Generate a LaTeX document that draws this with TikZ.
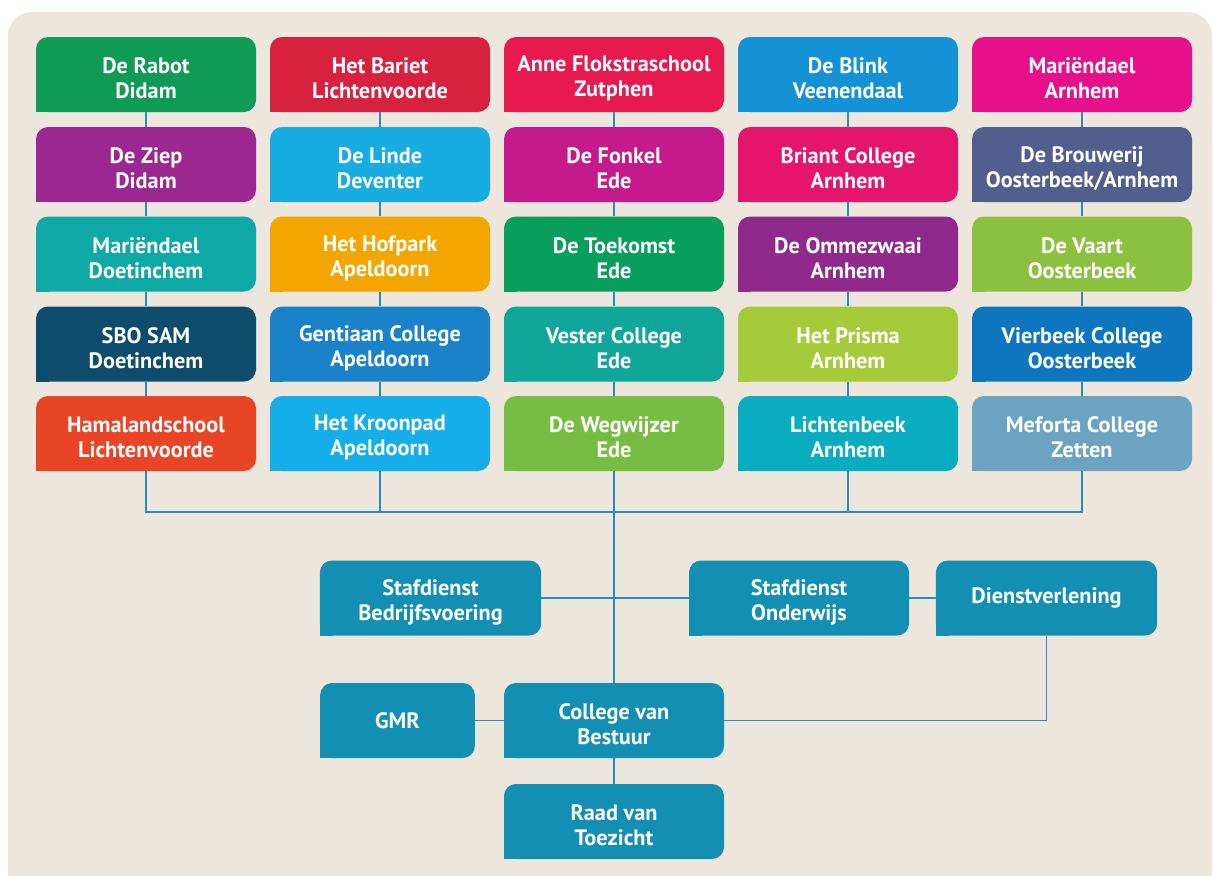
\documentclass[tikz,border=0pt]{standalone}
\usepackage{fontspec}
\setmainfont{PT Sans}
\definecolor{bg}{HTML}{ECE6DC}
\definecolor{ln}{HTML}{2B8DBA}
\definecolor{staf}{HTML}{138FB4}
\definecolor{cA}{HTML}{0F9A55}
\definecolor{cB}{HTML}{D7213F}
\definecolor{cC}{HTML}{E8194F}
\definecolor{cD}{HTML}{1591D5}
\definecolor{cE}{HTML}{E5108A}
\definecolor{cF}{HTML}{9B2791}
\definecolor{cG}{HTML}{17ADE0}
\definecolor{cH}{HTML}{C41A8C}
\definecolor{cI}{HTML}{E5146C}
\definecolor{cJ}{HTML}{525F8E}
\definecolor{cK}{HTML}{0EA8A7}
\definecolor{cL}{HTML}{F4A600}
\definecolor{cM}{HTML}{0A9E5C}
\definecolor{cN}{HTML}{8F2A8C}
\definecolor{cO}{HTML}{8CC040}
\definecolor{cP}{HTML}{0E4C6E}
\definecolor{cQ}{HTML}{1A82C9}
\definecolor{cR}{HTML}{10A69A}
\definecolor{cS}{HTML}{A5CB3A}
\definecolor{cT}{HTML}{0E76BF}
\definecolor{cU}{HTML}{EA4426}
\definecolor{cV}{HTML}{15AEEA}
\definecolor{cW}{HTML}{77BD44}
\definecolor{cX}{HTML}{0AACC0}
\definecolor{cY}{HTML}{6BA3C1}
\newcommand\TopGap{\rule{0pt}{18pt}}
\newcommand\SB[6][165pt]{%
  \node[sbox, minimum width=#1, fill=#5] (#2) at (#3,#4) {#6};
  \fill[#5] (#2.south west) rectangle ++(10pt,10pt);}
\tikzset{
  sbox/.style={minimum height=56.25pt, inner sep=0pt, rounded corners=9pt,
    text=white, align=center,
    font=\fontsize{16.7}{18.8}\selectfont\bfseries},
  conn/.style={draw=ln, line width=1.4pt}
}
\begin{document}
\begin{tikzpicture}[x=0.75pt,y=-0.75pt]
\useasboundingbox (0,0) rectangle (1214,875);
\fill[white] (0,0) rectangle (1214,875);
\begin{scope}
\clip (0,0) rectangle (1214,875);
\fill[bg, rounded corners=18pt] (8,12) rectangle (1212,920);
\end{scope}
% row 1
\SB{a1}{146}{74.5}{cA}{\TopGap De Rabot\\Didam}
\SB{b1}{380}{74.5}{cB}{\TopGap Het Bariet\\Lichtenvoorde}
\SB{c1}{614}{74.5}{cC}{\TopGap Anne Flokstraschool\\Zutphen}
\SB{d1}{848}{74.5}{cD}{\TopGap De Blink\\Veenendaal}
\SB{e1}{1082}{74.5}{cE}{\TopGap Mariëndael\\Arnhem}
% row 2
\SB{a2}{146}{164.5}{cF}{\TopGap De Ziep\\Didam}
\SB{b2}{380}{164.5}{cG}{\TopGap De Linde\\Deventer}
\SB{c2}{614}{164.5}{cH}{\TopGap De Fonkel\\Ede}
\SB{d2}{848}{164.5}{cI}{\TopGap Briant College\\Arnhem}
\SB{e2}{1082}{164.5}{cJ}{\TopGap De Brouwerij\\Oosterbeek/Arnhem}
% row 3
\SB{a3}{146}{254}{cK}{\TopGap Mariëndael\\Doetinchem}
\SB{b3}{380}{254}{cL}{\TopGap Het Hofpark\\Apeldoorn}
\SB{c3}{614}{254}{cM}{\TopGap De Toekomst\\Ede}
\SB{d3}{848}{254}{cN}{\TopGap De Ommezwaai\\Arnhem}
\SB{e3}{1082}{254}{cO}{\TopGap De Vaart\\Oosterbeek}
% row 4
\SB{a4}{146}{344}{cP}{\TopGap SBO SAM\\Doetinchem}
\SB{b4}{380}{344}{cQ}{\TopGap Gentiaan College\\Apeldoorn}
\SB{c4}{614}{344}{cR}{\TopGap Vester College\\Ede}
\SB{d4}{848}{344}{cS}{\TopGap Het Prisma\\Arnhem}
\SB{e4}{1082}{344}{cT}{\TopGap Vierbeek College\\Oosterbeek}
% row 5
\SB{a5}{146}{433.5}{cU}{\TopGap Hamalandschool\\Lichtenvoorde}
\SB{b5}{380}{433.5}{cV}{\TopGap Het Kroonpad\\Apeldoorn}
\SB{c5}{614}{433.5}{cW}{\TopGap De Wegwijzer\\Ede}
\SB{d5}{848}{433.5}{cX}{\TopGap Lichtenbeek\\Arnhem}
\SB{e5}{1082}{433.5}{cY}{\TopGap Meforta College\\Zetten}
% lower part
\SB[166pt]{bed}{430.5}{598}{staf}{\TopGap Stafdienst\\Bedrijfsvoering}
\SB{ond}{799}{598}{staf}{\TopGap Stafdienst\\Onderwijs}
\SB[166pt]{dien}{1046.5}{598}{staf}{Dienstverlening}
\SB[116pt]{gmr}{397.5}{720.5}{staf}{GMR}
\SB{cvb}{614}{720.5}{staf}{\TopGap College van\\Bestuur}
\SB{rvt}{614}{821.5}{staf}{\TopGap Raad van\\Toezicht}
% connectors
\foreach \c in {a,b,c,d,e}{
  \draw[conn] (\c1) -- (\c2);
  \draw[conn] (\c2) -- (\c3);
  \draw[conn] (\c3) -- (\c4);
  \draw[conn] (\c4) -- (\c5);
}
\coordinate (busL) at (146,512);
\coordinate (busR) at (1082,512);
\draw[conn] (a5.south) -- (busL) -- (busR) -- (e5.south);
\draw[conn] (b5.south) -- (b5.south |- busL);
\draw[conn] (d5.south) -- (d5.south |- busL);
\draw[conn] (c5.south) -- (cvb.north);
\draw[conn] (bed.east) -- (ond.west);
\draw[conn] (ond.east) -- (dien.west);
\draw[conn] (dien.south) -- (dien.south |- cvb.east) -- (cvb.east);
\draw[conn] (gmr.east) -- (cvb.west);
\draw[conn] (cvb.south) -- (rvt.north);
\end{tikzpicture}
\end{document}
